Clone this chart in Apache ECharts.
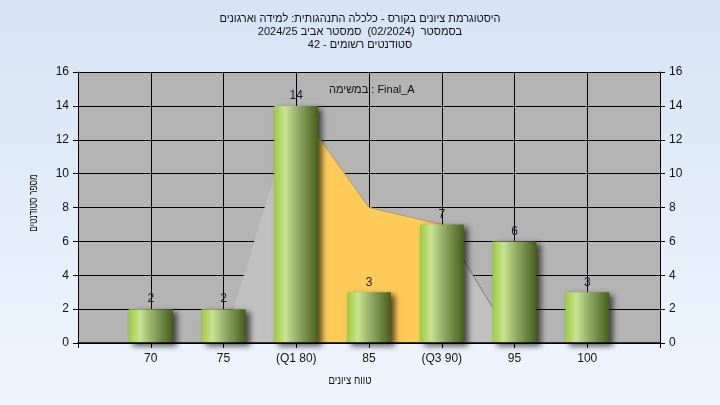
<!DOCTYPE html>
<html>
<head>
<meta charset="utf-8">
<script src="https://cdn.jsdelivr.net/npm/echarts@6/dist/echarts.min.js"></script>
<style>html,body{margin:0;padding:0;}#c{width:720px;height:405px;}</style>
</head>
<body>
<div id="c"></div>
<script>
const titleLines = ['היסטוגרמת ציונים בקורס - כלכלה התנהגותית: למידה וארגונים', 'בסמסטר  (02/2024)  סמסטר אביב 2024/25', 'סטודנטים רשומים - 42'];
const legendText = 'במשימה : Final_A';
const xAxisName = 'טווח ציונים';
const yAxisName = 'מספר סטודנטים';
const categories = [70, 75, 80, 85, 90, 95, 100];
const tickLabels = ['70', '75', '(Q1 80)', '85', '(Q3 90)', '95', '100'];
const counts = [2, 2, 14, 3, 7, 6, 3];
const curveX = [75, 80, 85, 90, 95];
const curveY = [0, 14, 8, 7, 0];
const iqrX = [80, 85, 90];
const iqrY = [14, 8, 7];

const font = '"Liberation Sans", Arial, sans-serif';
const chart = echarts.init(document.getElementById('c'));
const barData = categories.map((c, i) => [c, counts[i]]);
const curveData = curveX.map((x, i) => [x, curveY[i]]);
const iqrData = iqrX.map((x, i) => [x, iqrY[i]]);

chart.setOption({
  backgroundColor: new echarts.graphic.LinearGradient(0, 0, 0, 1, [
    { offset: 0, color: '#d5e3f5' }, { offset: 1, color: '#f0f6fe' }
  ]),
  animation: false,
  title: [{
    text: titleLines.join('\n'),
    left: 'center', top: 7,
    textStyle: { fontFamily: font, fontSize: 11, fontWeight: 'normal', color: '#111', lineHeight: 13 }
  }, {
    text: legendText, left: 324, top: 79,
    textStyle: { fontFamily: font, fontSize: 11, fontWeight: 'normal', color: '#111' }
  }],
  graphic: [{
    type: 'text', x: 350, y: 381, scaleX: 0.8,
    style: { text: xAxisName, font: '12px ' + font, fill: '#111', align: 'center', verticalAlign: 'middle' }
  }, {
    type: 'text', x: 34, y: 203, rotation: Math.PI / 2, scaleX: 0.7,
    style: { text: yAxisName, font: '12px ' + font, fill: '#111', align: 'center', verticalAlign: 'middle' }
  }],
  grid: { left: 78, right: 60, top: 72, bottom: 62, show: true, backgroundColor: '#b4b4b4', borderWidth: 0 },
  xAxis: [{
    type: 'value', min: 65, max: 105, interval: 5,
    axisLine: { show: true, lineStyle: { color: '#000', width: 1 } },
    axisTick: { show: true, length: 5, lineStyle: { color: '#000' } },
    axisLabel: {
      fontFamily: font, fontSize: 12, color: '#111', margin: 10,
      formatter: v => { const i = categories.indexOf(v); return i >= 0 ? tickLabels[i] : ''; }
    },
    splitLine: { show: true, lineStyle: { color: '#000', width: 1 } }
  }, {
    type: 'value', min: 65, max: 105, interval: 5, position: 'bottom', z: 10,
    axisLine: { show: true, lineStyle: { color: '#000', width: 1.5 } },
    axisTick: { show: false }, axisLabel: { show: false }, splitLine: { show: false }
  }],
  yAxis: [{
    type: 'value', min: 0, max: 16, interval: 2, position: 'left',
    axisLine: { show: true, lineStyle: { color: '#000', width: 1 } },
    axisTick: { show: true, length: 5, lineStyle: { color: '#000' } },
    axisLabel: { fontFamily: font, fontSize: 12, color: '#111', margin: 9 },
    splitLine: { show: true, lineStyle: { color: '#000', width: 1 } }
  }, {
    type: 'value', min: 0, max: 16, interval: 2, position: 'right',
    axisLine: { show: true, lineStyle: { color: '#000', width: 1 } },
    axisTick: { show: true, length: 5, lineStyle: { color: '#000' } },
    axisLabel: { fontFamily: font, fontSize: 12, color: '#111', margin: 9 },
    splitLine: { show: false }
  }],
  series: [{
    type: 'line', data: curveData, symbol: 'none', z: 1,
    lineStyle: {
      width: 1,
      color: new echarts.graphic.LinearGradient(0, 0, 1, 0, [
        { offset: 0, color: '#bdbdbd' }, { offset: 0.74, color: '#bdbdbd' },
        { offset: 0.76, color: '#7a7a7a' }, { offset: 1, color: '#7a7a7a' }
      ])
    },
    areaStyle: { color: '#c0c0c0', opacity: 1 }
  }, {
    type: 'line', data: iqrData, symbol: 'none', z: 1,
    lineStyle: { color: '#b89a50', width: 1 },
    areaStyle: { color: '#fecb5a', opacity: 1 }
  }, {
    type: 'bar', data: barData, barWidth: 44, z: 3,
    itemStyle: {
      color: new echarts.graphic.LinearGradient(0, 0, 1, 0, [
        { offset: 0, color: '#9ccc3a' },
        { offset: 0.25, color: '#c8e392' },
        { offset: 0.55, color: '#90a964' },
        { offset: 1, color: '#46601c' }
      ]),
      shadowColor: 'rgba(0,0,0,0.65)', shadowBlur: 6, shadowOffsetX: 4, shadowOffsetY: 3
    },
    label: { show: true, position: 'top', distance: 4, fontFamily: font, fontSize: 12, color: '#1a1a2a' }
  }]
});
</script>
</body>
</html>
